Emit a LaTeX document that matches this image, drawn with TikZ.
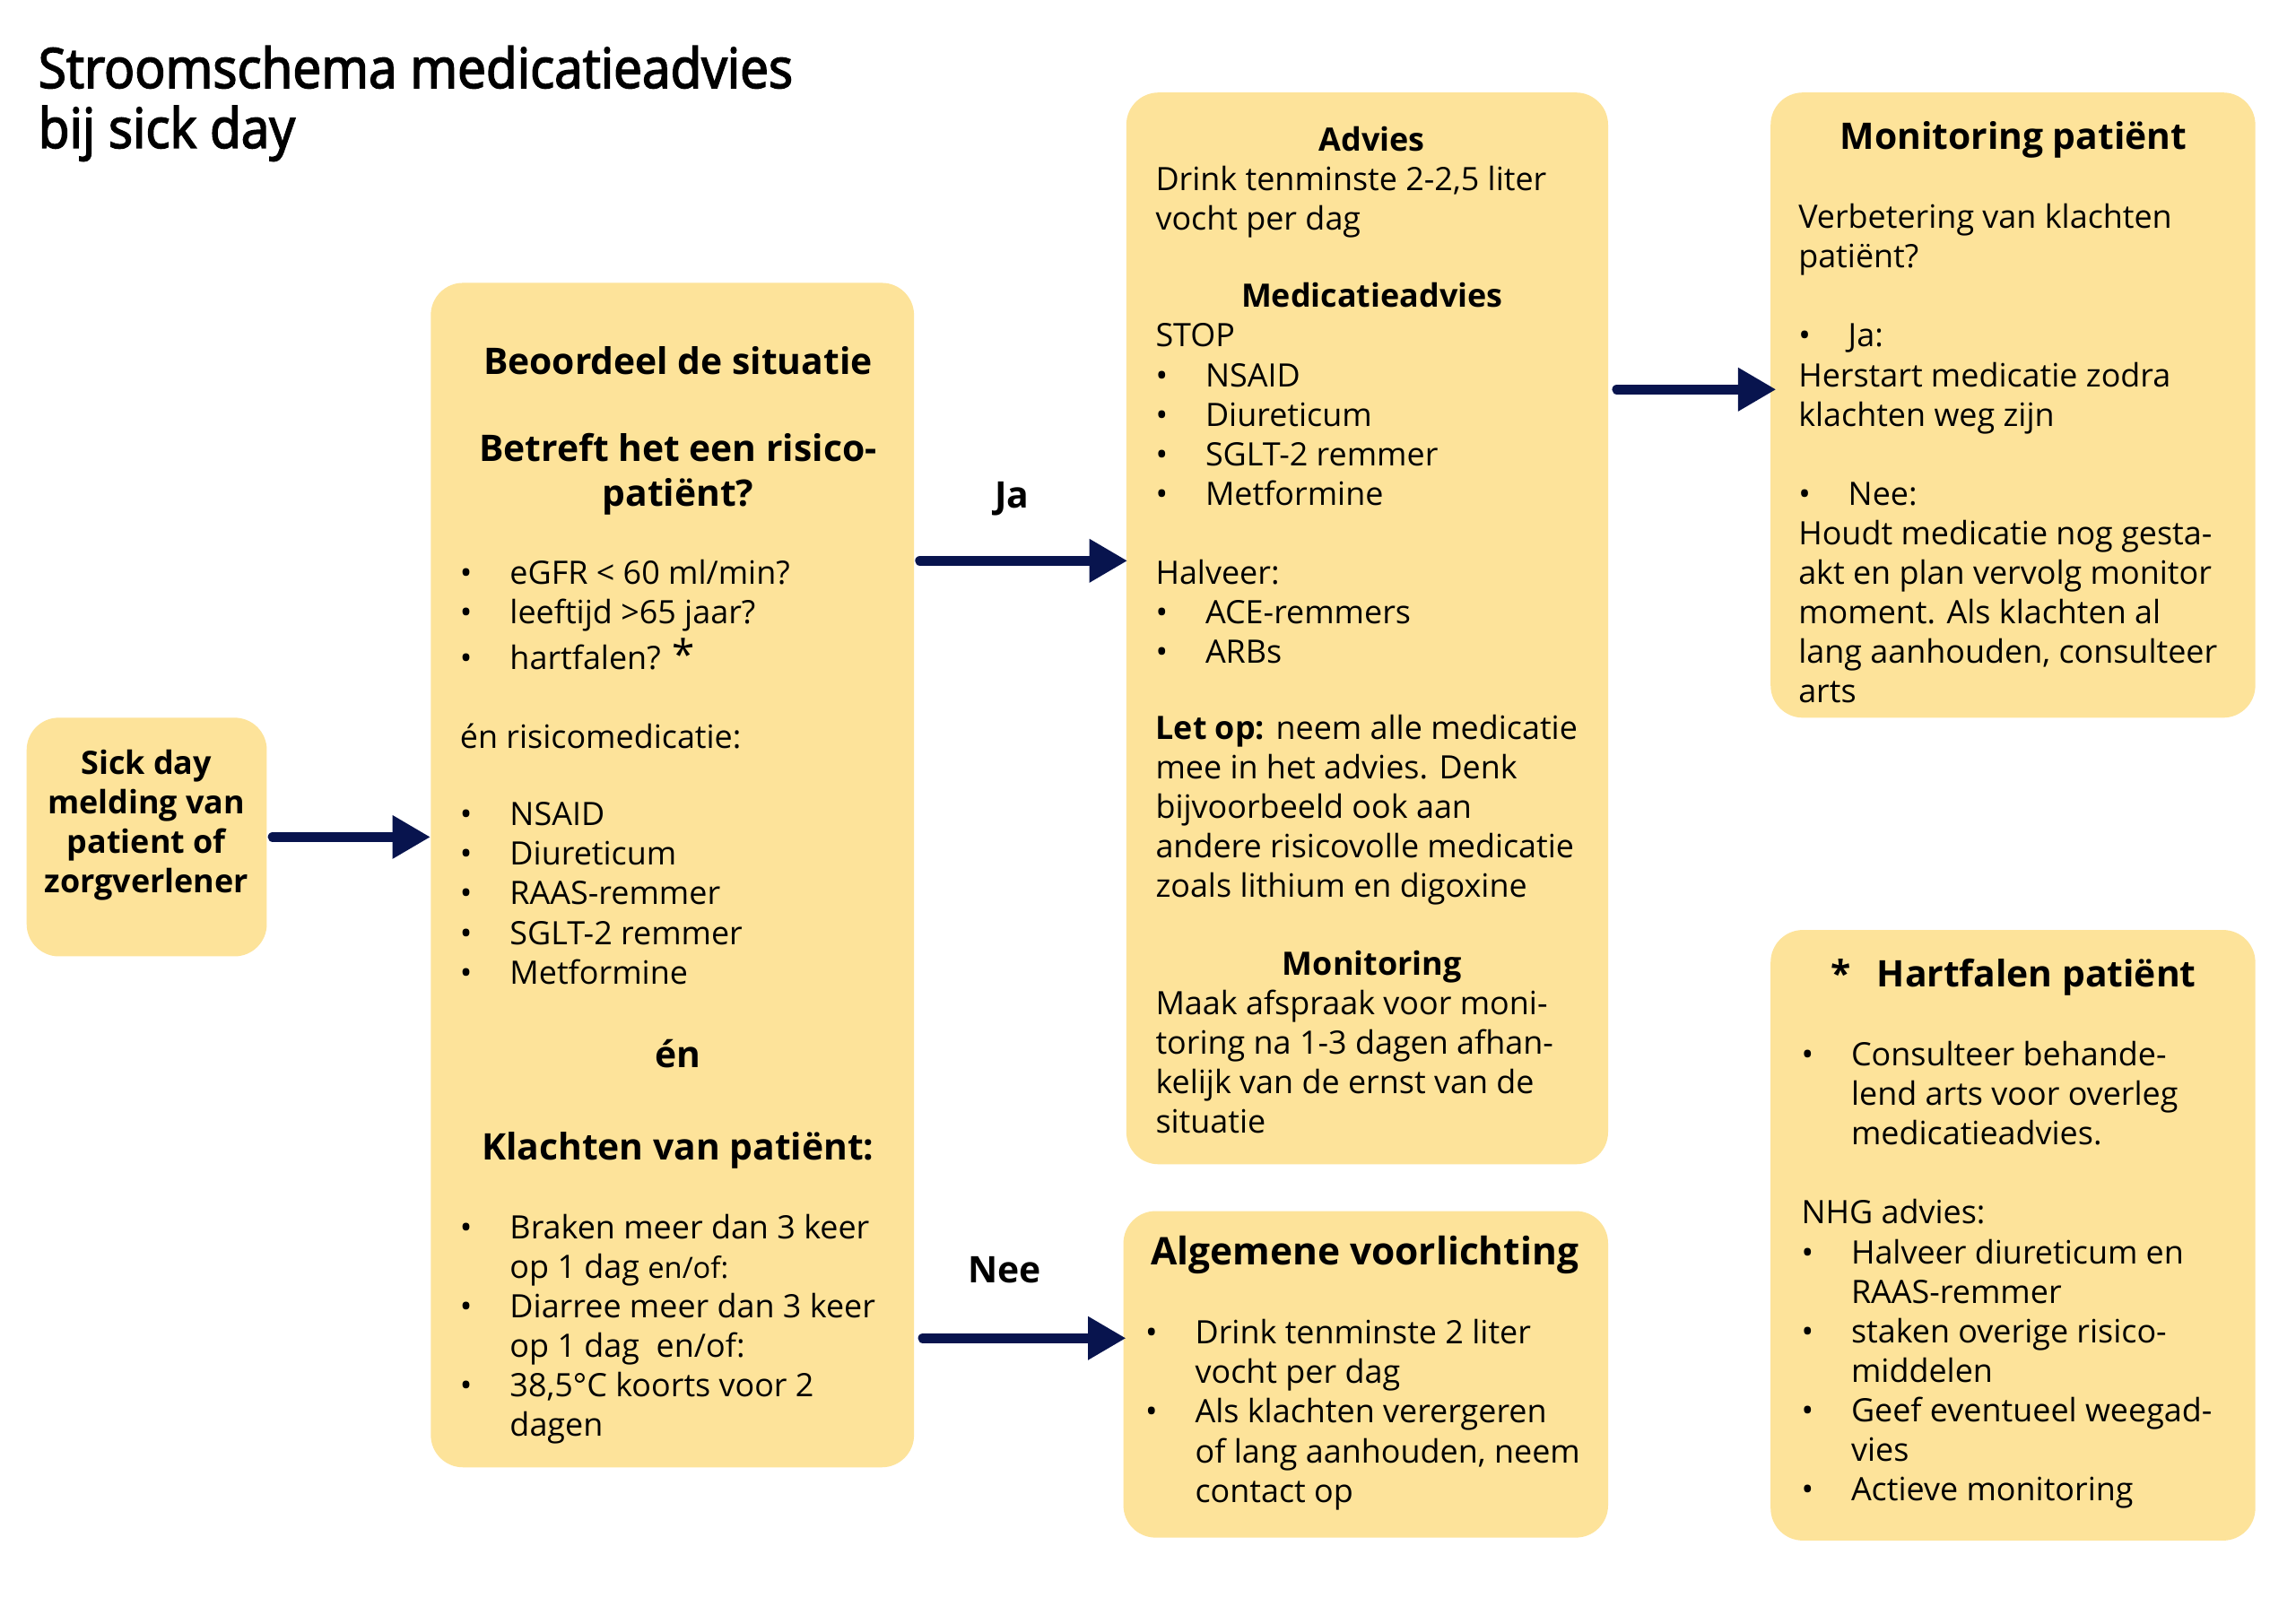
\documentclass[tikz,border=0pt]{standalone}
\usepackage{fontspec}
\setmainfont{Open Sans}
\newfontfamily\titlefont[FakeStretch=0.92,FakeBold=2.6]{Open Sans}
\usetikzlibrary{arrows.meta}
\definecolor{boxy}{RGB}{253,227,154}
\definecolor{navy}{RGB}{8,20,78}
\newcommand\fs[1]{\fontsize{#1}{27}\selectfont}
\newcommand\bul{\makebox[34pt][l]{•}}
\newcommand\ind{\hspace*{34pt}}
\newcommand\blk[1]{\parbox[t]{330pt}{\raggedright #1}}
\begin{document}
\begin{tikzpicture}[x=1pt,y=-1pt,
  box/.style={fill=boxy, draw=none, rounded corners=22pt, inner sep=0pt, anchor=north west},
  txt/.style={inner sep=0pt, anchor=base west, font=\fs{22}},
  hd/.style={inner sep=0pt, anchor=base, font=\bfseries\fs{25}},
  hds/.style={inner sep=0pt, anchor=base, font=\bfseries\fs{22}},
  arr/.style={draw=navy, line width=7pt, line cap=round, -{Triangle[length=26pt,width=28pt]}}]
\fill[white] (0,0) rectangle (1568,1109);
\useasboundingbox (0,0) rectangle (1568,1109);

% title
\node[inner sep=0pt, anchor=base west] (title) at (26,60)
  {\parbox[t]{700pt}{\titlefont\fontsize{37.8}{41}\selectfont Stroomschema medicatieadvies\\bij sick day}};

% boxes
\node[box, minimum width=164pt, minimum height=163pt] (b1) at (18,490) {};
\node[box, minimum width=330pt, minimum height=809pt] (b2) at (294,193) {};
\node[box, minimum width=329pt, minimum height=732pt] (b3) at (769,63) {};
\node[box, minimum width=331pt, minimum height=223pt] (b4) at (767,827) {};
\node[box, minimum width=331pt, minimum height=427pt] (b5) at (1209,63) {};
\node[box, minimum width=331pt, minimum height=417pt] (b6) at (1209,635) {};

% box 1
\node[inner sep=0pt, anchor=base, font=\bfseries\fs{22}] (t1) at (100,529)
  {\parbox[t]{160pt}{\centering Sick day\\melding van\\patient of\\zorgverlener}};

% box 2
\node[hd] (t2a) at (463,256) {Beoordeel de situatie};
\node[hd] (t2b) at (463,315) {\parbox[t]{320pt}{\centering\fontsize{25}{31}\selectfont Betreft het een risico-\\patiënt?}};
\node[txt] (t2c) at (314,399) {\blk{\bul eGFR < 60 ml/min?\\ \bul leeftijd >65 jaar?\\[4pt] \bul hartfalen? {\fontsize{28}{27}\selectfont *}}};
\node[txt] (t2d) at (314,511) {én risicomedicatie:};
\node[txt] (t2e) at (314,564) {\blk{\bul NSAID\\ \bul Diureticum\\ \bul RAAS-remmer\\ \bul SGLT-2 remmer\\ \bul Metformine}};
\node[hd] (t2f) at (463,729) {én};
\node[hd] (t2g) at (463,792) {Klachten van patiënt:};
\node[txt] (t2h) at (314,846) {\blk{\bul Braken meer dan 3 keer\\ \ind op 1 dag {\fs{20}en/of:}\\ \bul Diarree meer dan 3 keer\\ \ind op 1 dag\ \ en/of:\\ \bul 38,5°C koorts voor 2\\ \ind dagen}};

% box 3
\node[hds] (t3a) at (937,103) {Advies};
\node[txt] (t3b) at (789,130) {\blk{Drink tenminste 2-2,5 liter\\vocht per dag}};
\node[hds] (t3c) at (937,210) {Medicatieadvies};
\node[txt] (t3d) at (789,237) {\blk{STOP\\ \bul NSAID\\ \bul Diureticum\\ \bul SGLT-2 remmer\\ \bul Metformine\\[27pt] Halveer:\\ \bul ACE-remmers\\ \bul ARBs}};
\node[txt] (t3e) at (789,505) {\blk{\textbf{Let op:} neem alle medicatie\\mee in het advies. Denk\\bijvoorbeeld ook aan\\andere risicovolle medicatie\\zoals lithium en digoxine}};
\node[hds] (t3f) at (937,666) {Monitoring};
\node[txt] (t3g) at (789,693) {\blk{Maak afspraak voor moni-\\toring na 1-3 dagen afhan-\\kelijk van de ernst van de\\situatie}};

% box 4
\node[hd, font=\bfseries\fs{26}] (t4a) at (932,864) {Algemene voorlichting};
\node[txt] (t4b) at (782,918) {\blk{\bul Drink tenminste 2 liter\\ \ind vocht per dag\\ \bul Als klachten verergeren\\ \ind of lang aanhouden, neem\\ \ind contact op}};

% box 5
\node[hd] (t5a) at (1375,102) {Monitoring patiënt};
\node[txt] (t5b) at (1228,156) {\blk{Verbetering van klachten\\patiënt?\\[27pt] \bul Ja:\\Herstart medicatie zodra\\klachten weg zijn\\[27pt] \bul Nee:\\Houdt medicatie nog gesta-\\akt en plan vervolg monitor\\moment. Als klachten al\\lang aanhouden, consulteer\\arts}};

% box 6
\node[inner sep=0pt, anchor=base west, font=\bfseries\fs{25}] (t6a) at (1250,674) {*\hspace{18pt}Hartfalen patiënt};
\node[txt] (t6b) at (1230,728) {\blk{\bul Consulteer behande-\\ \ind lend arts voor overleg\\ \ind medicatieadvies.\\[27pt] NHG advies:\\ \bul Halveer diureticum en\\ \ind RAAS-remmer\\ \bul staken overige risico-\\ \ind middelen\\ \bul Geef eventueel weegad-\\ \ind vies\\ \bul Actieve monitoring}};

% arrows
\coordinate (ya) at (0,383);
\coordinate (yn) at (0,914);
\coordinate (ym) at (0,266);
\draw[arr, shorten <=4pt] (b1.east) -- (b1.east -| b2.west);
\draw[arr, shorten <=4pt, shorten >=-1pt] (b2.east |- ya) -- (b3.west |- ya);
\draw[arr, shorten <=6pt, shorten >=-2pt] (b2.east |- yn) -- (b4.west |- yn);
\draw[arr, shorten <=6pt, shorten >=-4pt] (b3.east |- ym) -- (b5.west |- ym);
\node[hd] (lja) at (691,347) {Ja};
\node[hd] (lnee) at (686,876) {Nee};
\end{tikzpicture}
\end{document}
